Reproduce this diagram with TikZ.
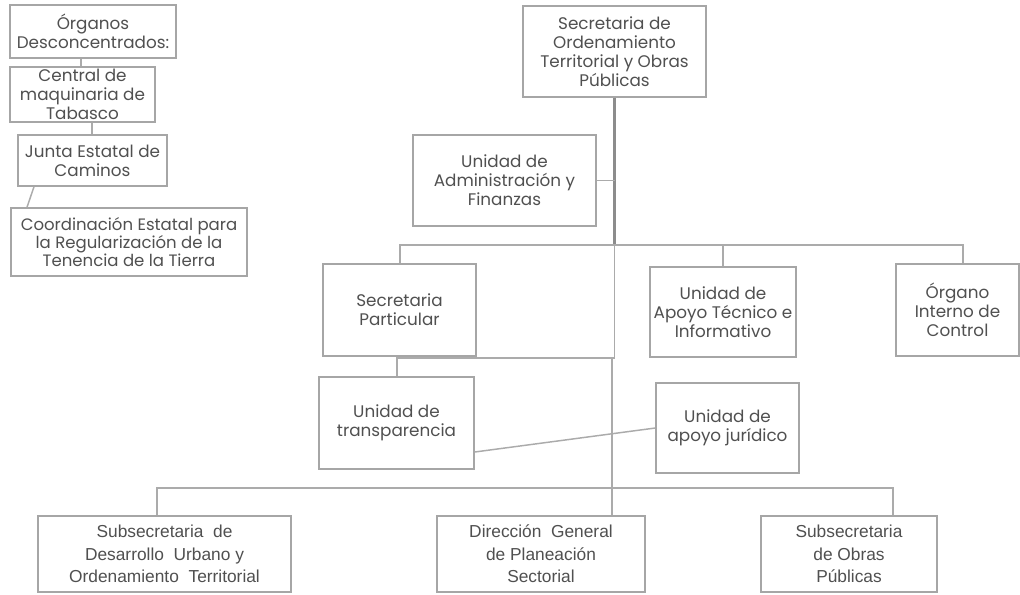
\documentclass[tikz,border=0pt]{standalone}
\usepackage{fontspec}
\setmainfont{Poppins}
\newfontfamily\narrowfont{Liberation Sans}
\definecolor{boxgray}{HTML}{A6A6A6}
\definecolor{linegray}{HTML}{ABABAB}
\definecolor{maingray}{HTML}{8C8C8C}
\definecolor{txtgray}{HTML}{505050}
\begin{document}
\begin{tikzpicture}[x=0.75pt,y=-0.75pt,
  bx/.style 2 args={draw=boxgray, line width=1.1pt, align=center, inner sep=0pt,
    text=txtgray, font=\fontsize{12.6}{14.2}\selectfont,
    minimum width=#1*0.75pt, minimum height=#2*0.75pt},
  bxb/.style 2 args={bx={#1}{#2}, font=\narrowfont\fontsize{13}{17}\selectfont},
  ln/.style={draw=linegray, line width=1.1pt},
  mainln/.style={draw=maingray, line width=2pt}]
\useasboundingbox (0,0) rectangle (1020,594);
\fill[white] (0,0) rectangle (1020,594);
% left column
\node[bx={166}{53}] (org) at (93,31.5) {Órganos\\Desconcentrados:};
\node[bx={145}{55}] (central) at (82.5,94.5) {Central de\\maquinaria de\\Tabasco};
\node[bx={149}{51}] (junta) at (92.5,160.5) {Junta Estatal de\\Caminos};
\node[bx={236}{68}, font=\fontsize{12.4}{13.2}\selectfont] (coord) at (129,242) {Coordinación Estatal para\\la Regularización de la\\Tenencia de la Tierra};
% main
\node[bx={183}{91}] (sec) at (614.5,51.5) {Secretaria de\\Ordenamiento\\Territorial y Obras\\Públicas};
\node[bx={183}{91}] (admin) at (504.5,180.5) {Unidad de\\Administración y\\Finanzas};
\node[bx={153}{92}] (secpart) at (399.5,310) {Secretaria\\Particular};
\node[bx={146}{90}] (apoyot) at (723,312) {Unidad de\\Apoyo Técnico e\\Informativo};
\node[bx={123}{92}] (oic) at (957.5,310) {Órgano\\Interno de\\Control};
\node[bx={155}{92}] (transp) at (396.5,423) {Unidad de\\transparencia};
\node[bx={143}{90}] (jur) at (727.5,428) {Unidad de\\apoyo jurídico};
\node[bxb={253}{76}] (subdu) at (164.5,554) {Subsecretaria\ \ de\\Desarrollo\ \ Urbano y\\Ordenamiento\ \ Territorial};
\node[bxb={208}{76}] (dgps) at (541,554) {Dirección\ \ General\\de Planeación\\Sectorial};
\node[bxb={176}{76}] (subop) at (849,554) {Subsecretaria\\de Obras\\Públicas};
% helper coordinates
\coordinate (b1) at (0,245);
\coordinate (b2) at (0,358);
\coordinate (b3) at (0,488);
\coordinate (x81) at (81,0);
\coordinate (x92) at (92,0);
\coordinate (x34) at (34,0);
\coordinate (x27) at (27,0);
\coordinate (xa) at (400,0);
\coordinate (xo) at (963,0);
\coordinate (xt) at (397,0);
\coordinate (xdg) at (612,0);
\coordinate (xdu) at (157,0);
\coordinate (xop) at (893,0);
% left connectors
\draw[ln] (x81 |- org.south) -- (x81 |- central.north);
\draw[ln] (x92 |- central.south) -- (x92 |- junta.north);
\draw[ln] (x34 |- junta.south) -- (x27 |- coord.north);
% main connectors
\draw[mainln] (sec.south) -- (sec.south |- b1);
\draw[ln] (admin.east) -- (admin.east -| sec.south);
\draw[ln] (xa |- secpart.north) -- (xa |- b1) -- (xo |- b1) -- (xo |- oic.north);
\draw[ln] (apoyot.north) -- (apoyot.north |- b1);
\draw[ln] (sec.south |- b1) -- (sec.south |- b2) -- (xt |- b2) -- (xt |- transp.north);
\draw[ln] (xdg |- b2) -- (xdg |- dgps.north);
\draw[ln] ([yshift=-21.75pt]transp.east) -- (jur.west);
\draw[ln] (xdu |- subdu.north) -- (xdu |- b3) -- (xop |- b3) -- (xop |- subop.north);
\end{tikzpicture}
\end{document}
